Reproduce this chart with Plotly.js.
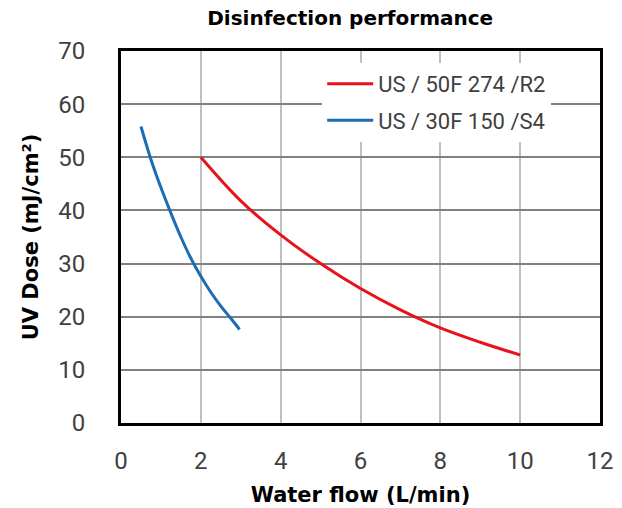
<!DOCTYPE html>
<html>
<head>
<meta charset="utf-8">
<script src="https://cdn.plot.ly/plotly-3.0.1.min.js"></script>
<style>html,body{margin:0;padding:0;background:#fff;}#chart{width:622px;height:508px;}</style>
</head>
<body>
<div id="chart"></div>
<script>
var seriesNames = ["US / 50F 274 /R2", "US / 30F 150 /S4"];
var redFlow = [2, 3, 4, 5, 6, 7, 8, 9, 10];
var redDose = [50, 41.8, 35.4, 30.0, 25.3, 21.3, 17.9, 15.2, 12.8];
var blueFlow = [0.5, 0.75, 1.0, 1.25, 1.5, 1.75, 2.0, 2.25, 2.5, 2.75, 2.97];
var blueDose = [55.8, 49.6, 44.3, 39.5, 35.0, 31.0, 27.6, 24.6, 22.0, 19.7, 17.6];
var xTicks = [0, 2, 4, 6, 8, 10, 12];
var yTicks = [0, 10, 20, 30, 40, 50, 60, 70];

var tickFont = {family: "Roboto, sans-serif", size: 24, color: "#404040"};
var boldFont = {family: "DejaVu Sans, Verdana, sans-serif", size: 21, color: "#000", weight: "bold"};

var traces = [
  {x: redFlow, y: redDose, name: seriesNames[0], mode: "lines", legendgroup: "a",
   line: {color: "#e8131a", width: 3, shape: "spline"}},
  {x: blueFlow, y: blueDose, name: seriesNames[1], mode: "lines", legendgroup: "b",
   line: {color: "#1c6db3", width: 3, shape: "spline"}}
];

var layout = {
  width: 622, height: 508,
  margin: {l: 121, r: 22, t: 51, b: 85},
  paper_bgcolor: "#fff", plot_bgcolor: "#fff",
  title: {text: "<b>Disinfection performance</b>", x: 0.563, xanchor: "center", y: 0.965, yanchor: "middle",
          font: {family: "DejaVu Sans, Verdana, sans-serif", size: 20, color: "#000"}},
  xaxis: {range: [0, 12], tickvals: xTicks, ticktext: xTicks.map(String), tickfont: tickFont,
          showgrid: true, gridcolor: "#c0c0c0", gridwidth: 2, zeroline: false,
          showline: true, mirror: true, linecolor: "#000", linewidth: 3, ticks: "",
          ticklabelstandoff: 14,
          title: {text: "<b>Water flow (L/min)</b>", font: boldFont, standoff: 14}},
  yaxis: {range: [0, 70], tickvals: yTicks, ticktext: yTicks.map(String), tickfont: tickFont,
          showgrid: true, gridcolor: "#808080", gridwidth: 2, zeroline: false,
          showline: true, mirror: true, linecolor: "#000", linewidth: 3, ticks: "",
          ticklabelstandoff: 28,
          title: {text: "<b>UV Dose (mJ/cm²)</b>", font: boldFont, standoff: 14}},
  showlegend: true,
  legend: {x: 0.42, xanchor: "left", y: 0.968, yanchor: "top", bgcolor: "#fff",
           font: {family: "Roboto, sans-serif", size: 22, color: "#404040"},
           traceorder: "grouped", tracegroupgap: 5, itemwidth: 46}
};

Plotly.newPlot("chart", traces, layout, {staticPlot: true, displayModeBar: false});
</script>
</body>
</html>
